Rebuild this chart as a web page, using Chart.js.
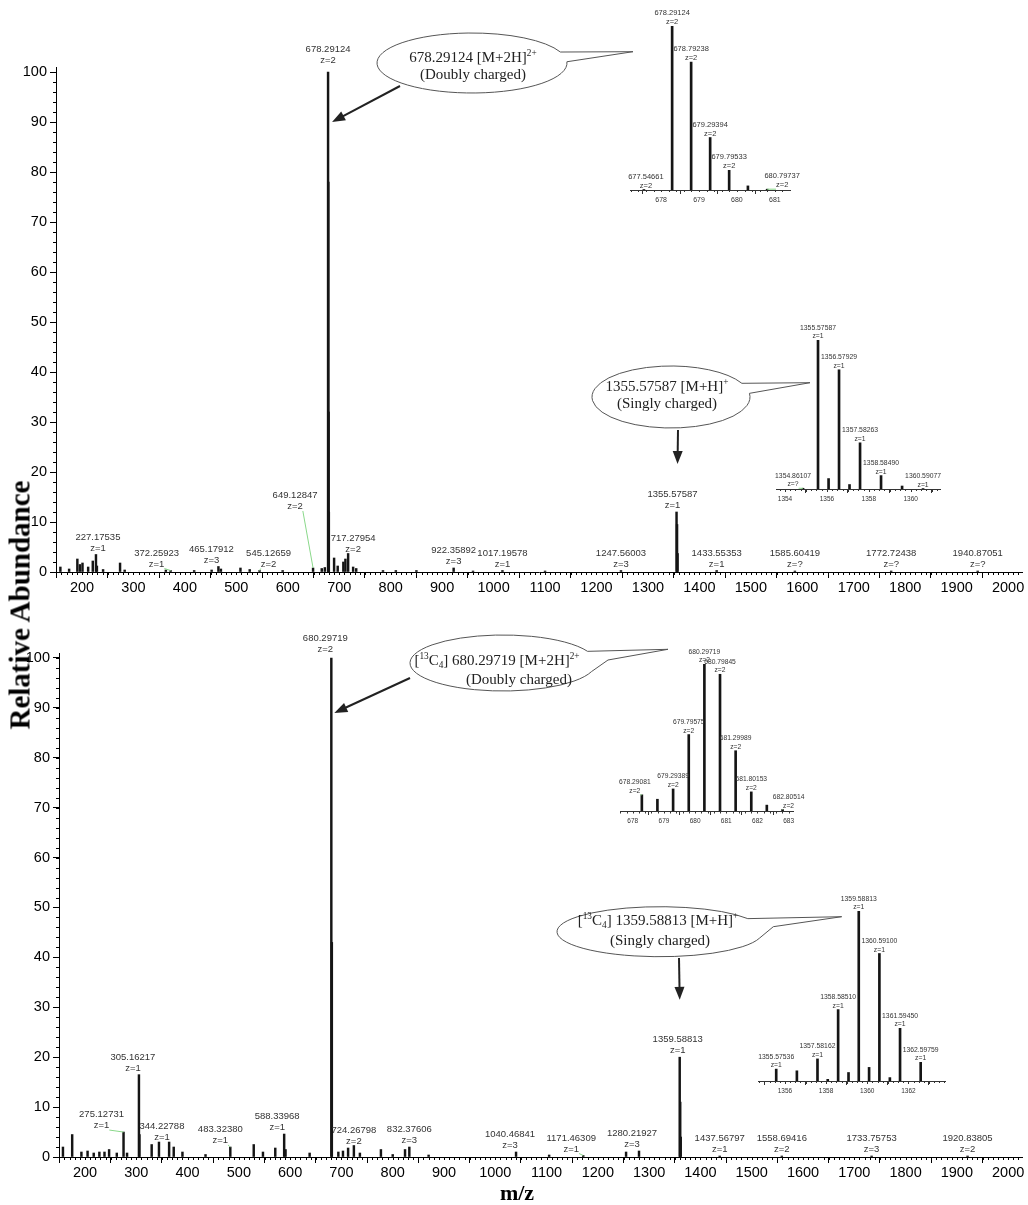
<!DOCTYPE html>
<html>
<head>
<meta charset="utf-8">
<title>Mass spectra</title>
<script src="https://cdn.jsdelivr.net/npm/chart.js@4.4.1/dist/chart.umd.min.js"></script>
<style>
  body { margin: 0; background: #fff; }
  #page { position: relative; width: 1028px; height: 1205px; overflow: hidden; background: #fff; }
  canvas { position: absolute; }
  .title { position: absolute; font-family: 'Liberation Serif', 'Times New Roman', serif; font-weight: bold; color: #000; white-space: nowrap; }
  #ytitle { left: 20px; top: 605px; font-size: 29px; transform: translate(-50%, -50%) rotate(-90deg); }
  #xtitle { left: 517px; top: 1193px; font-size: 22px; transform: translate(-50%, -50%); }
</style>
</head>
<body>
<div id="page">
  <canvas id="mainTop" width="1028" height="600" style="left:0;top:0"></canvas>
  <canvas id="mainBottom" width="1028" height="605" style="left:0;top:600px"></canvas>
  <canvas id="insetA" width="190" height="212" style="left:615px;top:0"></canvas>
  <canvas id="insetB" width="196" height="195" style="left:760px;top:310px"></canvas>
  <canvas id="insetC" width="215" height="200" style="left:600px;top:630px"></canvas>
  <canvas id="insetD" width="225" height="220" style="left:740px;top:880px"></canvas>
  <div id="ytitle" class="title">Relative Abundance</div>
  <div id="xtitle" class="title">m/z</div>
</div>
<script>
// ---------- data: full scan, native peptide ----------
const topMz = [158, 175, 191, 196, 201, 212, 221, 227.17535, 229, 241, 274, 283, 363, 372.25923, 418, 452,
  465.17912, 470, 508, 526, 545.12659, 590, 649.12847, 666, 672, 678.29124, 678.79238, 679.29394, 679.79533,
  690, 697, 708, 712, 717.27954, 727, 733, 785, 810, 850, 922.35892, 960, 1017.19578, 1100, 1247.56003,
  1355.57587, 1356.57929, 1357.58263, 1433.55353, 1585.60419, 1772.72438, 1940.87051];
const topAbund = [1.0, 0.6, 2.6, 1.5, 1.8, 1.0, 2.2, 3.5, 1.2, 0.5, 1.8, 0.4, 0.4, 0.3, 0.3, 0.4,
  1.1, 0.6, 0.8, 0.5, 0.3, 0.3, 0.8, 0.7, 0.9, 100, 78, 32, 12,
  2.8, 1.2, 2.0, 2.6, 3.7, 1.0, 0.7, 0.3, 0.3, 0.3, 0.8, 0.2, 0.3, 0.2, 0.3,
  12, 9.5, 3.7, 0.3, 0.2, 0.2, 0.2];
const topLabelMz = [678.29124, 227.17535, 372.25923, 465.17912, 545.12659, 649.12847, 717.27954, 922.35892,
  1017.19578, 1247.56003, 1355.57587, 1433.55353, 1585.60419, 1772.72438, 1940.87051];
const topLabelZ = ['z=2', 'z=1', 'z=1', 'z=3', 'z=2', 'z=2', 'z=2', 'z=3', 'z=1', 'z=3', 'z=1', 'z=1', 'z=?', 'z=?', 'z=?'];

// ---------- data: full scan, [13C4] labelled peptide ----------
const botMz = [157, 175, 193, 205, 217, 228, 238, 247, 262, 275.12731, 282, 305.16217, 306.16, 330, 344.22788,
  364, 373, 390, 435, 483.32380, 529, 547, 571, 588.33968, 591, 638, 680.29719, 681.3, 694, 703, 713,
  724.26798, 736, 777, 800, 824, 832.37606, 870, 1040.46841, 1105, 1171.46309, 1255, 1280.21927,
  1359.58813, 1360.59, 1361.59, 1437.56797, 1558.69416, 1733.75753, 1920.83805];
const botAbund = [2, 4.5, 1, 1.2, 0.8, 1, 1, 1.5, 0.8, 5, 0.8, 16.5, 4.5, 2.5, 3,
  3, 2, 1, 0.5, 2, 2.5, 1, 1.8, 4.6, 1.5, 0.8, 100, 43, 1, 1.2, 1.8,
  2.3, 0.8, 1.5, 0.5, 1.5, 2, 0.4, 1, 0.4, 0.3, 1, 1.2,
  20, 11, 4, 0.2, 0.2, 0.2, 0.2];
const botLabelMz = [680.29719, 275.12731, 305.16217, 344.22788, 483.32380, 588.33968, 724.26798, 832.37606,
  1040.46841, 1171.46309, 1280.21927, 1359.58813, 1437.56797, 1558.69416, 1733.75753, 1920.83805];
const botLabelZ = ['z=2', 'z=1', 'z=1', 'z=1', 'z=1', 'z=1', 'z=2', 'z=3', 'z=3', 'z=1', 'z=3', 'z=1', 'z=1', 'z=2', 'z=3', 'z=2'];

// ---------- data: zoomed isotope clusters ----------
const insetAMz = [677.54661, 678.29124, 678.79238, 679.29394, 679.79533, 680.29, 680.79737];
const insetAAbund = [0.3, 100, 78, 32, 12, 2.5, 0.5];
const insetALabelMz = [678.29124, 678.79238, 679.29394, 679.79533, 677.54661, 680.79737];
const insetALabelZ = ['z=2', 'z=2', 'z=2', 'z=2', 'z=2', 'z=2'];

const insetBMz = [1354.86107, 1355.57587, 1356.08, 1356.57929, 1357.08, 1357.58263, 1358.58490, 1359.59, 1360.59077];
const insetBAbund = [0.5, 100, 7, 80, 3, 31, 9, 2, 0.3];
const insetBLabelMz = [1355.57587, 1356.57929, 1357.58263, 1358.58490, 1354.86107, 1360.59077];
const insetBLabelZ = ['z=1', 'z=1', 'z=1', 'z=1', 'z=?', 'z=1'];

const insetCMz = [678.29081, 678.79, 679.29389, 679.79575, 680.29719, 680.79845, 681.29989, 681.80153, 682.30, 682.80514];
const insetCAbund = [11, 8, 15, 52, 100, 93, 41, 13, 4, 1];
const insetCLabelMz = [678.29081, 679.29389, 679.79575, 680.29719, 680.79845, 681.29989, 681.80153, 682.80514];
const insetCLabelZ = ['z=2', 'z=2', 'z=2', 'z=2', 'z=2', 'z=2', 'z=2', 'z=2'];

const insetDMz = [1355.57536, 1356.58, 1357.58162, 1358.08, 1358.58510, 1359.09, 1359.58813, 1360.09, 1360.59100, 1361.10, 1361.59450, 1362.59759];
const insetDAbund = [7, 6, 13, 1, 42, 5, 100, 8, 75, 2, 31, 11];
const insetDLabelMz = [1355.57536, 1357.58162, 1358.58510, 1359.58813, 1360.59100, 1361.59450, 1362.59759];
const insetDLabelZ = ['z=1', 'z=1', 'z=1', 'z=1', 'z=1', 'z=1', 'z=1'];

// tick labels
const mainXTicks = [200, 300, 400, 500, 600, 700, 800, 900, 1000, 1100, 1200, 1300, 1400, 1500, 1600, 1700, 1800, 1900, 2000];
const mainYTicks = [0, 10, 20, 30, 40, 50, 60, 70, 80, 90, 100];
const insetATicks = [678, 679, 680, 681];
const insetBTicks = [1354, 1356, 1358, 1360];
const insetCTicks = [678, 679, 680, 681, 682, 683];
const insetDTicks = [1356, 1358, 1360, 1362];

const SANS = "'Liberation Sans', Arial, Helvetica, sans-serif";
const SERIF = "'Liberation Serif', 'Times New Roman', serif";

// small ticks between the labelled ones
const minorTicks = {
  id: 'minorTicks',
  afterDraw(chart, args, o) {
    const ctx = chart.ctx, ca = chart.chartArea;
    ctx.save();
    ctx.strokeStyle = o.color || '#000';
    ctx.lineWidth = 1;
    ctx.beginPath();
    (o.x || []).forEach(m => {
      const s = chart.scales.x;
      for (let v = Math.ceil(s.min / m.step) * m.step; v <= s.max; v += m.step) {
        const p = Math.round(s.getPixelForValue(v)) + 0.5;
        ctx.moveTo(p, ca.bottom);
        ctx.lineTo(p, ca.bottom + m.len);
      }
    });
    (o.y || []).forEach(m => {
      const s = chart.scales.y;
      for (let v = 0; v <= s.max; v += m.step) {
        const p = Math.round(s.getPixelForValue(v)) + 0.5;
        ctx.moveTo(ca.left, p);
        ctx.lineTo(ca.left - m.len, p);
      }
    });
    ctx.stroke();
    ctx.restore();
  }
};

// m/z and charge annotations above peaks
const peakLabels = {
  id: 'peakLabels',
  afterDatasetsDraw(chart, args, o) {
    if (!o.mz) return;
    const ctx = chart.ctx, xs = chart.scales.x, ys = chart.scales.y;
    const pts = chart.data.datasets[0].data;
    ctx.save();
    ctx.font = o.size + 'px ' + SANS;
    ctx.fillStyle = '#333';
    ctx.textAlign = 'center';
    ctx.textBaseline = 'alphabetic';
    o.mz.forEach((m, i) => {
      const peak = pts.reduce((a, p) => Math.abs(p.x - m) < Math.abs(a.x - m) ? p : a);
      const px = xs.getPixelForValue(m), py = ys.getPixelForValue(peak.y);
      const sh = (o.shift && o.shift[i]) || [0, 0, 0];
      const lx = px + sh[0], zy = py - o.gap + sh[1];
      ctx.fillText(m.toFixed(5), lx, zy - o.lineH);
      ctx.fillText(o.z[i], lx, zy);
      if (sh[2]) {
        const zw = ctx.measureText(o.z[i]).width / 2;
        ctx.strokeStyle = '#8ad88a';
        ctx.lineWidth = 1;
        ctx.beginPath();
        ctx.moveTo(lx + (sh[0] < 0 ? zw : -zw), zy + 2);
        ctx.lineTo(px, py);
        ctx.stroke();
      }
    });
    ctx.restore();
  }
};

function richText(ctx, segs, cx, y, size) {
  const f = s => (s.sup || s.sub ? size * 0.62 : size) + 'px ' + SERIF;
  let w = 0;
  segs.forEach(s => { ctx.font = f(s); w += ctx.measureText(s.t).width; });
  let x = cx - w / 2;
  segs.forEach(s => {
    ctx.font = f(s);
    const dy = s.sup ? -size * 0.38 : s.sub ? size * 0.2 : 0;
    ctx.fillText(s.t, x, y + dy);
    x += ctx.measureText(s.t).width;
  });
}

// speech bubbles and arrows
const callouts = {
  id: 'callouts',
  afterDraw(chart, args, o) {
    const ctx = chart.ctx, xs = chart.scales.x, ys = chart.scales.y;
    (o.items || []).forEach(c => {
      ctx.save();
      const ang = p => Math.atan2((p[1] - c.cy) / c.ry, (p[0] - c.cx) / c.rx);
      const t = c.tail;
      ctx.beginPath();
      ctx.ellipse(c.cx, c.cy, c.rx, c.ry, 0, ang(t[t.length - 1]), ang(t[0]));
      for (let k = 1; k < t.length - 1; k++) ctx.lineTo(t[k][0], t[k][1]);
      ctx.closePath();
      ctx.fillStyle = '#fff';
      ctx.fill();
      ctx.strokeStyle = '#555';
      ctx.lineWidth = 1;
      ctx.stroke();

      ctx.fillStyle = '#222';
      ctx.textAlign = 'left';
      ctx.textBaseline = 'alphabetic';
      c.lines.forEach((segs, i) => richText(ctx, segs, c.tx[i], c.ty[i], 15));

      const [x0, y0] = c.arrow.from;
      const x1 = xs.getPixelForValue(c.arrow.mz) + c.arrow.dx, y1 = ys.getPixelForValue(c.arrow.v);
      const a = Math.atan2(y1 - y0, x1 - x0), L = 13, W = 5;
      const ca = Math.cos(a), sa = Math.sin(a);
      ctx.strokeStyle = '#222';
      ctx.lineWidth = 2;
      ctx.beginPath();
      ctx.moveTo(x0, y0);
      ctx.lineTo(x1 - L * 0.8 * ca, y1 - L * 0.8 * sa);
      ctx.stroke();
      ctx.beginPath();
      ctx.moveTo(x1, y1);
      ctx.lineTo(x1 - L * ca + W * sa, y1 - L * sa - W * ca);
      ctx.lineTo(x1 - L * ca - W * sa, y1 - L * sa + W * ca);
      ctx.closePath();
      ctx.fill();
      ctx.restore();
    });
  }
};

function spectrum(id, c) {
  const yScale = c.yw ? {
    min: 0, max: c.ymax,
    afterBuildTicks: s => { s.ticks = mainYTicks.map(v => ({ value: v })); },
    afterFit: s => { s.width = c.yw; },
    grid: { drawOnChartArea: false, tickLength: 6, color: '#000' },
    border: { color: '#000' },
    ticks: { color: '#000', padding: 3, font: { family: SANS, size: c.tickSize }, callback: v => String(v) }
  } : { display: false, min: 0, max: c.ymax };

  return new Chart(document.getElementById(id), {
    type: 'bar',
    data: {
      datasets: [{
        data: c.mz.map((m, i) => ({ x: m, y: c.ab[i] })),
        backgroundColor: '#151515',
        borderWidth: 0,
        barThickness: c.barW
      }]
    },
    options: {
      responsive: false,
      animation: false,
      events: [],
      layout: { padding: c.pad },
      plugins: {
        legend: { display: false },
        tooltip: { enabled: false },
        minorTicks: c.minor,
        peakLabels: c.labels,
        callouts: { items: c.callouts || [] }
      },
      scales: {
        x: {
          type: 'linear', min: c.min, max: c.max, offset: false,
          afterBuildTicks: s => { s.ticks = c.ticks.map(v => ({ value: v })); },
          afterFit: s => { s.height = c.xh; },
          grid: { drawOnChartArea: false, tickLength: c.tickLen, color: c.axisColor },
          border: { color: c.axisColor },
          ticks: { autoSkip: false, maxRotation: 0, color: c.axisColor, padding: c.tickPad,
            font: { family: SANS, size: c.tickSize }, callback: v => String(v) }
        },
        y: yScale
      }
    },
    plugins: [minorTicks, peakLabels, callouts]
  });
}

const sup = t => ({ t, sup: true });
const sub = t => ({ t, sub: true });

spectrum('mainTop', {
  mz: topMz, ab: topAbund, min: 149.5, max: 2027, ymax: 101, ticks: mainXTicks,
  pad: { left: 0, right: 6, top: 67, bottom: 0 }, yw: 56, xh: 28, barW: 1.8,
  tickLen: 6, tickPad: 1, tickSize: 14.5, axisColor: '#000',
  minor: { x: [{ step: 10, len: 3 }], y: [{ step: 2, len: 3 }] },
  labels: { mz: topLabelMz, z: topLabelZ, size: 9.5, lineH: 11, gap: 4,
    shift: { 0: [0, -5], 1: [2, 0], 2: [-14, 0, 1], 3: [-7, 0], 4: [9, 0, 1], 5: [-18, -55, 1], 6: [5, 2], 10: [-4, 0] } },
  callouts: [
    { cx: 472, cy: 63, rx: 95, ry: 30, tail: [[563, 51.7], [633, 51.7], [571.7, 61.7]],
      lines: [[{ t: '678.29124 [M+2H]' }, sup('2+')], [{ t: '(Doubly charged)' }]], tx: [473, 473], ty: [62, 79],
      arrow: { from: [400, 86], mz: 678.29124, v: 90, dx: 4 } },
    { cx: 671, cy: 397, rx: 79, ry: 31, tail: [[745, 382.7], [810, 382.7], [756.7, 393]],
      lines: [[{ t: '1355.57587 [M+H]' }, sup('+')], [{ t: '(Singly charged)' }]], tx: [667, 667], ty: [391, 408],
      arrow: { from: [678, 430], mz: 1355.57587, v: 21.6, dx: 1 } }
  ]
});

spectrum('mainBottom', {
  mz: botMz, ab: botAbund, min: 149.3, max: 2027, ymax: 101, ticks: mainXTicks,
  pad: { left: 0, right: 6, top: 53, bottom: 0 }, yw: 59, xh: 48, barW: 1.8,
  tickLen: 6, tickPad: 1, tickSize: 14.5, axisColor: '#000',
  minor: { x: [{ step: 10, len: 3 }], y: [{ step: 2, len: 3 }] },
  labels: { mz: botLabelMz, z: botLabelZ, size: 9.5, lineH: 11, gap: 4,
    shift: { 0: [-6, -2], 1: [-22, 0, 1], 2: [-6, 0], 3: [3, 2], 4: [-10, 0, 1], 5: [-7, 0], 6: [0, 2], 8: [-6, 0],
      9: [-12, 0, 1], 10: [-7, 0], 11: [-2, 0] } },
  callouts: [
    { cx: 503, cy: 63, rx: 93, ry: 28, tail: [[590, 51], [668, 49.3], [608, 60], [596, 72]],
      lines: [[{ t: '[' }, sup('13'), { t: 'C' }, sub('4'), { t: '] 680.29719 [M+2H]' }, sup('2+')], [{ t: '(Doubly charged)' }]],
      tx: [497, 519], ty: [65, 84],
      arrow: { from: [410, 78], mz: 680.29719, v: 89, dx: 3 } },
    { cx: 660, cy: 331.7, rx: 103, ry: 25, tail: [[752, 318], [841.7, 316.7], [773.3, 326.7], [760, 338]],
      lines: [[{ t: '[' }, sup('13'), { t: 'C' }, sub('4'), { t: '] 1359.58813 [M+H]' }, sup('+')], [{ t: '(Singly charged)' }]],
      tx: [658, 660], ty: [325, 345],
      arrow: { from: [679, 358], mz: 1359.58813, v: 31.5, dx: 0 } }
  ]
});

spectrum('insetA', {
  mz: insetAMz, ab: insetAAbund, min: 677.18, max: 681.4, ymax: 100, ticks: insetATicks,
  pad: { left: 15, right: 15, top: 26, bottom: 0 }, xh: 22, barW: 2,
  tickLen: 4, tickPad: 2, tickSize: 7, axisColor: '#333',
  minor: { color: '#333', x: [{ step: 0.2, len: 2 }] },
  labels: { mz: insetALabelMz, z: insetALabelZ, size: 7.5, lineH: 9, gap: 2,
    shift: { 4: [2, 0], 5: [15, 0, 1] } }
});

spectrum('insetB', {
  mz: insetBMz, ab: insetBAbund, min: 1353.57, max: 1361.4, ymax: 100, ticks: insetBTicks,
  pad: { left: 16, right: 16, top: 30, bottom: 0 }, xh: 16, barW: 2,
  tickLen: 4, tickPad: 2, tickSize: 6.5, axisColor: '#333',
  minor: { color: '#333', x: [{ step: 0.25, len: 2 }, { step: 1, len: 3 }] },
  labels: { mz: insetBLabelMz, z: insetBLabelZ, size: 6.8, lineH: 8.5, gap: 2,
    shift: { 4: [-10, 0, 1] } }
});

spectrum('insetC', {
  mz: insetCMz, ab: insetCAbund, min: 677.59, max: 683.14, ymax: 100, ticks: insetCTicks,
  pad: { left: 20, right: 22, top: 34, bottom: 0 }, xh: 19, barW: 2,
  tickLen: 4, tickPad: 2, tickSize: 6.5, axisColor: '#333',
  minor: { color: '#333', x: [{ step: 0.2, len: 2.5 }] },
  labels: { mz: insetCLabelMz, z: insetCLabelZ, size: 6.7, lineH: 8.5, gap: 2,
    shift: { 0: [-7, 0, 1], 7: [6, 0, 1] } }
});

spectrum('insetD', {
  mz: insetDMz, ab: insetDAbund, min: 1354.69, max: 1363.78, ymax: 100, ticks: insetDTicks,
  pad: { left: 18, right: 20, top: 31, bottom: 0 }, xh: 19, barW: 2,
  tickLen: 4, tickPad: 2, tickSize: 6.5, axisColor: '#333',
  minor: { color: '#333', x: [{ step: 0.25, len: 2 }, { step: 1, len: 3 }] },
  labels: { mz: insetDLabelMz, z: insetDLabelZ, size: 6.8, lineH: 8.5, gap: 2 }
});
</script>
</body>
</html>
